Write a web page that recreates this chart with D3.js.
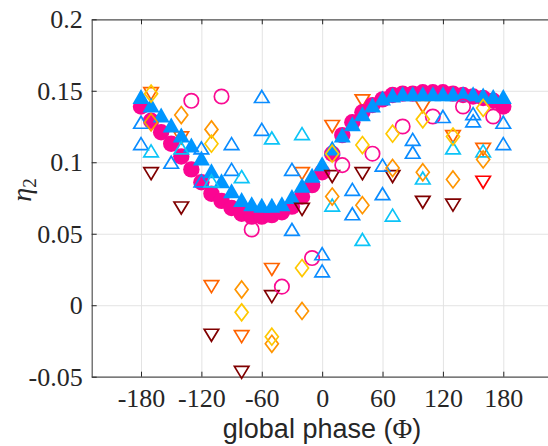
<!DOCTYPE html>
<html><head><meta charset="utf-8">
<script src="https://cdn.jsdelivr.net/npm/d3@7"></script>
<style>body{margin:0;background:#fff;} svg{display:block;}</style>
</head><body>
<svg id="chart" width="548" height="446"></svg>
<script>
// ---- data ----
const xTicks = [-180, -120, -60, 0, 60, 120, 180];
const yTicks = [-0.05, 0, 0.05, 0.1, 0.15, 0.2];
const yTickLabels = ["-0.05", "0", "0.05", "0.1", "0.15", "0.2"];

const phaseFine = [-180,-170,-160,-150,-140,-130,-120,-110,-100,-90,-80,-70,-60,-50,-40,-30,-20,-10,0,10,20,30,40,50,60,70,80,90,100,110,120,130,140,150,160,170,180];
const etaFilledCircle = [0.139,0.129,0.121,0.113,0.104,0.095,0.086,0.078,0.073,0.068,0.064,0.062,0.062,0.063,0.065,0.069,0.076,0.084,0.093,0.106,0.119,0.128,0.135,0.140,0.144,0.147,0.148,0.148,0.149,0.149,0.149,0.148,0.147,0.146,0.145,0.143,0.139];
const etaFilledTriangle = [0.146,0.140,0.133,0.126,0.119,0.112,0.103,0.094,0.087,0.080,0.074,0.071,0.070,0.070,0.071,0.076,0.084,0.091,0.099,0.110,0.119,0.127,0.134,0.140,0.145,0.147,0.148,0.148,0.148,0.148,0.148,0.148,0.148,0.148,0.147,0.146,0.146];

const phaseCircleOpen = [-130,-100,-70,-40,-10,20,50,80,110,140,170];
const etaCircleOpen = [0.143,0.146,0.053,0.013,0.033,0.098,0.106,0.125,0.132,0.139,0.132];

const phaseTriBlue = [-180,-180,-150,-120,-120,-90,-90,-60,-60,-30,-30,0,0,30,30,60,60,90,90,120,150,150,180,180];
const etaTriBlue = [0.128,0.113,0.100,0.110,0.087,0.113,0.095,0.146,0.123,0.095,0.053,0.036,0.024,0.081,0.064,0.098,0.078,0.116,0.107,0.132,0.134,0.129,0.128,0.113];

const phaseTriCyan = [-170,-140,-110,-80,-50,-20,10,40,70,100,130,160];
const etaTriCyan = [0.108,0.110,0.087,0.090,0.117,0.120,0.070,0.046,0.063,0.089,0.110,0.108];

const phaseDiaOrange = [-170,-140,-110,-80,-50,-20,10,40,70,100,130,160];
const etaDiaOrange = [0.128,0.133,0.123,0.011,-0.027,-0.004,0.076,0.070,0.096,0.093,0.088,0.102];

const phaseDiaYellow = [-170,-110,-80,-50,-20,10,40,70,100,130,160];
const etaDiaYellow = [0.148,0.113,-0.005,-0.022,0.026,0.106,0.112,0.120,0.130,0.118,0.138];

const phaseDownOrange = [-170,-140,-110,-80,-50,-20,10,40,100,130,160];
const etaDownOrange = [0.148,0.117,0.013,-0.022,0.025,0.092,0.125,0.143,0.139,0.118,0.109];

const phaseDownDark = [-170,-140,-110,-80,-50,-20,10,40,70,100,130];
const etaDownDark = [0.092,0.068,-0.021,-0.047,0.006,0.067,0.090,0.092,0.090,0.072,0.070];

const phaseDownRed = [160];
const etaDownRed = [0.086];

// ---- layout ----
const svg = d3.select("#chart");
const L = 91.7, T = 19.3, B = 376.7, R = 552.6;
const x = d3.scaleLinear().domain([-229, 229]).range([L, R]);
const y = d3.scaleLinear().domain([-0.05, 0.2]).range([B, T]);

// grid
const grid = svg.append("g");
grid.append("g").attr("transform", `translate(0,${B})`)
  .call(d3.axisBottom(x).tickValues(xTicks).tickSize(-(B - T)).tickFormat(""))
  .call(g => g.select(".domain").remove())
  .call(g => g.selectAll("line").attr("stroke", "#e3e3e3").attr("stroke-width", 1));
grid.append("g").attr("transform", `translate(${L},0)`)
  .call(d3.axisLeft(y).tickValues(yTicks).tickSize(-(R - L)).tickFormat(""))
  .call(g => g.select(".domain").remove())
  .call(g => g.selectAll("line").attr("stroke", "#e3e3e3").attr("stroke-width", 1));

// axes
const axCol = "#555";
const fontSerif = "'Liberation Serif', 'Times New Roman', serif";
const gx = svg.append("g").attr("transform", `translate(0,${B})`)
  .call(d3.axisBottom(x).tickValues(xTicks).tickSizeInner(-5).tickSizeOuter(0).tickPadding(12).tickFormat(d3.format("d")));
gx.select(".domain").attr("stroke", axCol).attr("stroke-width", 1.2);
gx.selectAll("line").attr("stroke", "#262626");
gx.selectAll("text").attr("font-family", fontSerif).attr("font-size", 26).attr("fill", "#262626")
  .text(d => String(d).replace("\u2212", "-"));

const gt = svg.append("g").attr("transform", `translate(0,${T})`)
  .call(d3.axisTop(x).tickValues(xTicks).tickSizeInner(-5).tickSizeOuter(0).tickFormat(""));
gt.select(".domain").attr("stroke", axCol).attr("stroke-width", 1.2);
gt.selectAll("line").attr("stroke", "#262626");

const gy = svg.append("g").attr("transform", `translate(${L},0)`)
  .call(d3.axisLeft(y).tickValues(yTicks).tickSizeInner(-5).tickSizeOuter(0).tickPadding(9)
    .tickFormat((d, i) => yTickLabels[i]));
gy.select(".domain").attr("stroke", axCol).attr("stroke-width", 1.2);
gy.selectAll("line").attr("stroke", "#262626");
gy.selectAll("text").attr("font-family", fontSerif).attr("font-size", 26).attr("fill", "#262626");

// axis labels
const xl = svg.append("text").attr("x", 322).attr("y", 438).attr("text-anchor", "middle")
  .attr("font-family", "'Liberation Sans', Arial, sans-serif").attr("font-size", 27).attr("fill", "#262626");
xl.append("tspan").text("global phase (");
xl.append("tspan").attr("font-family", fontSerif).text("\u03A6");
xl.append("tspan").text(")");

const yl = svg.append("text").attr("transform", "translate(31,190) rotate(-90)").attr("text-anchor", "middle")
  .attr("font-family", fontSerif).attr("font-size", 28).attr("fill", "#262626");
yl.append("tspan").attr("font-style", "italic").text("\u03B7");
yl.append("tspan").attr("font-size", 19).attr("dy", 5).text("2");

// ---- markers ----
const shapes = {
  circle: r => `M${-r},0A${r},${r} 0 1,0 ${r},0A${r},${r} 0 1,0 ${-r},0Z`,
  up: (w, h) => `M0,${-h/2}L${w/2},${h/2}L${-w/2},${h/2}Z`,
  down: (w, h) => `M0,${h/2}L${w/2},${-h/2}L${-w/2},${-h/2}Z`,
  diamond: (w, h) => `M0,${-h/2}L${w/2},0L0,${h/2}L${-w/2},0Z`
};
function plot(xs, ys, path, fill, stroke, sw) {
  svg.append("g").selectAll("path").data(xs.map((p, i) => [p, ys[i]])).join("path")
    .attr("transform", d => `translate(${x(d[0])},${y(d[1])})`)
    .attr("d", path)
    .attr("fill", fill).attr("stroke", stroke).attr("stroke-width", sw)
    .attr("stroke-linejoin", "miter");
}
const sw = 1.7;
plot(phaseDownOrange, etaDownOrange, shapes.down(14.5, 12), "none", "#ff6400", sw);
plot(phaseFine, etaFilledCircle, shapes.circle(8.2), "#fb0592", "none", 0);
plot(phaseFine, etaFilledTriangle, shapes.up(17, 15), "#0096ff", "none", 0);
plot(phaseDownDark, etaDownDark, shapes.down(14.5, 12), "none", "#800000", sw);
plot(phaseDownRed, etaDownRed, shapes.down(14.5, 12), "none", "#ff0000", sw);
plot(phaseCircleOpen, etaCircleOpen, shapes.circle(7.2), "none", "#fa0a92", sw);
plot(phaseTriBlue, etaTriBlue, shapes.up(14.5, 12), "none", "#0a8cff", sw);
plot(phaseTriCyan, etaTriCyan, shapes.up(14.5, 12), "none", "#0cc4f7", sw);
plot(phaseDiaOrange, etaDiaOrange, shapes.diamond(13, 17), "none", "#ff9500", sw);
plot(phaseDiaYellow, etaDiaYellow, shapes.diamond(13, 17), "none", "#ffc800", sw);
</script>
</body></html>
